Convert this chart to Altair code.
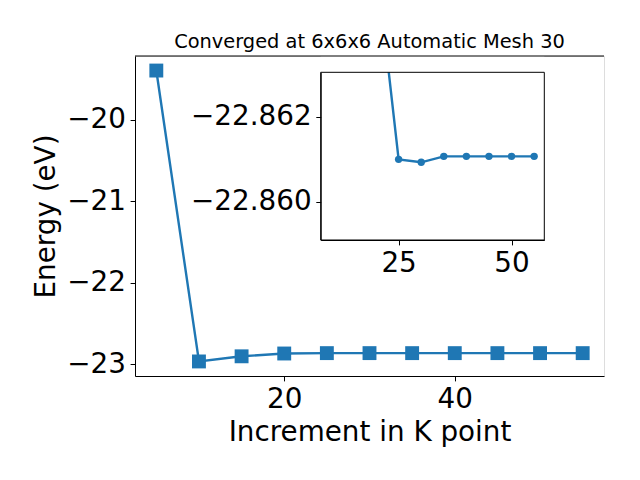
import altair as alt
import pandas as pd

# ---- data ----
k_points = [5, 10, 15, 20, 25, 30, 35, 40, 45, 50, 55]
energy = [-19.40, -22.963, -22.900, -22.8657, -22.86100, -22.86093,
          -22.86107, -22.86107, -22.86107, -22.86107, -22.86107]

main_x_ticks = [20, 40]
main_y_ticks = [-23, -22, -21, -20]
inset_x_ticks = [25, 50]
inset_y_ticks = [-22.862, -22.860]

title_text = "Converged at 6x6x6 Automatic Mesh 30"
x_title = "Increment in K point"
y_title = "Energy (eV)"

# ---- layout constants ----
W, H = 469, 320
FONT = "DejaVu Sans"
FS = 27.8
BLUE = "#1f77b4"

main_x_dom = [2.5, 57.5]
main_y_dom = [-23.1412, -19.2218]
inset_x_dom = [7.75, 57.25]
inset_y_dom = [-22.86305, -22.8591]
INSET_X_RANGE = [185.7, 409.3]
INSET_Y_RANGE = [16.3, 184.0]

df = pd.DataFrame({"k": k_points, "energy": energy})
inset_df = df.iloc[1:]
box_df = pd.DataFrame({"k": [inset_x_dom[0]], "k2": [inset_x_dom[1]],
                       "energy": [inset_y_dom[0]], "energy2": [inset_y_dom[1]]})

axis_common = dict(grid=False, tickSize=4.9, labelPadding=4.7, labelFont=FONT,
                   labelFontSize=FS, labelColor="black", tickColor="black",
                   domainColor="black", tickWidth=1, domainWidth=1,
                   labelFlush=False, labelOverlap=False, titleFont=FONT,
                   titleFontSize=FS, titleFontWeight="normal", titleColor="black")

# ---- main plot ----
mx = alt.X("k:Q", scale=alt.Scale(domain=main_x_dom, nice=False, zero=False),
           axis=alt.Axis(values=main_x_ticks, title=x_title, format="d",
                         titlePadding=5, **axis_common))
my = alt.Y("energy:Q", scale=alt.Scale(domain=main_y_dom, nice=False, zero=False),
           axis=alt.Axis(values=main_y_ticks, title=y_title, format="d",
                         titlePadding=6, **axis_common))

main_line = alt.Chart(df).mark_line(color=BLUE, strokeWidth=2.4).encode(x=mx, y=my)
main_pts = alt.Chart(df).mark_point(shape="square", filled=True, size=193,
                                    color=BLUE, opacity=1).encode(x=mx, y=my)
main = alt.layer(main_line, main_pts)

# ---- inset ----
ix_scale = alt.Scale(domain=inset_x_dom, range=INSET_X_RANGE, nice=False, zero=False)
iy_scale = alt.Scale(domain=inset_y_dom, range=INSET_Y_RANGE, nice=False, zero=False)
ix_axis = alt.Axis(values=inset_x_ticks, title=None, format="d", orient="bottom",
                   offset=-(H - INSET_Y_RANGE[1]), **axis_common)
iy_axis = alt.Axis(values=inset_y_ticks, title=None, format=".3f", orient="left",
                   offset=-INSET_X_RANGE[0], **axis_common)
ix = alt.X("k:Q", scale=ix_scale, axis=ix_axis)
iy = alt.Y("energy:Q", scale=iy_scale, axis=iy_axis)

inset_line = alt.Chart(inset_df).mark_line(color=BLUE, strokeWidth=2.4, clip=True).encode(x=ix, y=iy)
inset_pts = alt.Chart(inset_df).mark_point(shape="circle", filled=True, size=55,
                                           color=BLUE, opacity=1, clip=True).encode(x=ix, y=iy)
# white mask above the inset box (hides the part of the inset line outside its frame)
cover = alt.Chart(box_df).mark_rect(color="white", strokeWidth=0).encode(
    x=ix, x2="k2:Q", y=iy, y2=alt.value(0))
frame = alt.Chart(box_df).mark_rect(fillOpacity=0, stroke="black", strokeWidth=1).encode(
    x=ix, x2="k2:Q", y=iy, y2="energy2:Q")
inset = alt.layer(inset_line, inset_pts, cover, frame)

# full top edge of the main frame, drawn last
top_edge = alt.Chart(box_df).mark_rule(color="black", strokeWidth=1).encode(
    x=alt.value(0), x2=alt.value(W), y=alt.value(0))

chart = alt.layer(main, inset, top_edge).resolve_scale(x="independent", y="independent").properties(
    width=W, height=H,
    title=alt.TitleParams(title_text, font=FONT, fontSize=19.4, fontWeight="normal",
                          color="black", anchor="middle", baseline="alphabetic",
                          offset=7, dy=19),
    autosize=alt.AutoSizeParams(type="none"),
    padding={"left": 127, "top": 48, "right": 20, "bottom": 80},
).configure_view(stroke="black", strokeWidth=1).configure(background="white")

chart.save("out.html", embed_options={"renderer": "svg", "actions": False})
